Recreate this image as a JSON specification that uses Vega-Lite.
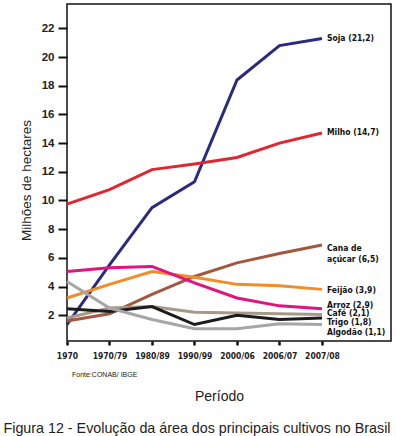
{
  "$schema": "https://vega.github.io/schema/vega-lite/v6.json",
  "width": 324,
  "height": 337,
  "autosize": {"type": "none"},
  "padding": {"left": 67, "top": 4, "right": 5, "bottom": 95},
  "background": "white",
  "title": {
    "text": "Figura 12 - Evolução da área dos principais cultivos no Brasil",
    "orient": "bottom",
    "anchor": "middle",
    "frame": "group",
    "dx": -32,
    "offset": 18,
    "font": "Liberation Sans",
    "fontSize": 14.3,
    "fontWeight": "normal",
    "color": "#222"
  },
  "config": {
    "view": {"stroke": "#111", "strokeWidth": 1.5},
    "axis": {"grid": false, "domain": false, "tickColor": "#111", "labelColor": "#222", "titleColor": "#222"}
  },
  "datasets": {
    "area": [
      {"cultivo": "Soja", "periodo": "1970", "area": 1.35},
      {"cultivo": "Soja", "periodo": "1970/79", "area": 5.5},
      {"cultivo": "Soja", "periodo": "1980/89", "area": 9.5},
      {"cultivo": "Soja", "periodo": "1990/99", "area": 11.3},
      {"cultivo": "Soja", "periodo": "2000/06", "area": 18.4},
      {"cultivo": "Soja", "periodo": "2006/07", "area": 20.8},
      {"cultivo": "Soja", "periodo": "2007/08", "area": 21.3},
      {"cultivo": "Milho", "periodo": "1970", "area": 9.75},
      {"cultivo": "Milho", "periodo": "1970/79", "area": 10.75},
      {"cultivo": "Milho", "periodo": "1980/89", "area": 12.15},
      {"cultivo": "Milho", "periodo": "1990/99", "area": 12.55},
      {"cultivo": "Milho", "periodo": "2000/06", "area": 13.0},
      {"cultivo": "Milho", "periodo": "2006/07", "area": 14.0},
      {"cultivo": "Milho", "periodo": "2007/08", "area": 14.7},
      {"cultivo": "Cana de açúcar", "periodo": "1970", "area": 1.6},
      {"cultivo": "Cana de açúcar", "periodo": "1970/79", "area": 2.1},
      {"cultivo": "Cana de açúcar", "periodo": "1980/89", "area": 3.45},
      {"cultivo": "Cana de açúcar", "periodo": "1990/99", "area": 4.7},
      {"cultivo": "Cana de açúcar", "periodo": "2000/06", "area": 5.65},
      {"cultivo": "Cana de açúcar", "periodo": "2006/07", "area": 6.3},
      {"cultivo": "Cana de açúcar", "periodo": "2007/08", "area": 6.9},
      {"cultivo": "Feijão", "periodo": "1970", "area": 3.2},
      {"cultivo": "Feijão", "periodo": "1970/79", "area": 4.15},
      {"cultivo": "Feijão", "periodo": "1980/89", "area": 5.05},
      {"cultivo": "Feijão", "periodo": "1990/99", "area": 4.65},
      {"cultivo": "Feijão", "periodo": "2000/06", "area": 4.15},
      {"cultivo": "Feijão", "periodo": "2006/07", "area": 4.05},
      {"cultivo": "Feijão", "periodo": "2007/08", "area": 3.8},
      {"cultivo": "Arroz", "periodo": "1970", "area": 5.05},
      {"cultivo": "Arroz", "periodo": "1970/79", "area": 5.3},
      {"cultivo": "Arroz", "periodo": "1980/89", "area": 5.4},
      {"cultivo": "Arroz", "periodo": "1990/99", "area": 4.25},
      {"cultivo": "Arroz", "periodo": "2000/06", "area": 3.2},
      {"cultivo": "Arroz", "periodo": "2006/07", "area": 2.65},
      {"cultivo": "Arroz", "periodo": "2007/08", "area": 2.45},
      {"cultivo": "Café", "periodo": "1970", "area": 1.8},
      {"cultivo": "Café", "periodo": "1970/79", "area": 2.5},
      {"cultivo": "Café", "periodo": "1980/89", "area": 2.6},
      {"cultivo": "Café", "periodo": "1990/99", "area": 2.2},
      {"cultivo": "Café", "periodo": "2000/06", "area": 2.15},
      {"cultivo": "Café", "periodo": "2006/07", "area": 2.1},
      {"cultivo": "Café", "periodo": "2007/08", "area": 2.05},
      {"cultivo": "Trigo", "periodo": "1970", "area": 2.45},
      {"cultivo": "Trigo", "periodo": "1970/79", "area": 2.25},
      {"cultivo": "Trigo", "periodo": "1980/89", "area": 2.6},
      {"cultivo": "Trigo", "periodo": "1990/99", "area": 1.35},
      {"cultivo": "Trigo", "periodo": "2000/06", "area": 2.0},
      {"cultivo": "Trigo", "periodo": "2006/07", "area": 1.7},
      {"cultivo": "Trigo", "periodo": "2007/08", "area": 1.8},
      {"cultivo": "Algodão", "periodo": "1970", "area": 4.35},
      {"cultivo": "Algodão", "periodo": "1970/79", "area": 2.5},
      {"cultivo": "Algodão", "periodo": "1980/89", "area": 1.7},
      {"cultivo": "Algodão", "periodo": "1990/99", "area": 1.05},
      {"cultivo": "Algodão", "periodo": "2000/06", "area": 1.05},
      {"cultivo": "Algodão", "periodo": "2006/07", "area": 1.4},
      {"cultivo": "Algodão", "periodo": "2007/08", "area": 1.35}
    ],
    "rotulos": [
      {"rotulo": "Soja (21,2)", "periodo": "2007/08", "area": 21.3},
      {"rotulo": "Milho (14,7)", "periodo": "2007/08", "area": 14.78},
      {"rotulo": "Cana de\naçúcar (6,5)", "periodo": "2007/08", "area": 6.7},
      {"rotulo": "Feijão (3,9)", "periodo": "2007/08", "area": 3.78},
      {"rotulo": "Arroz (2,9)", "periodo": "2007/08", "area": 2.74},
      {"rotulo": "Café (2,1)", "periodo": "2007/08", "area": 2.12},
      {"rotulo": "Trigo (1,8)", "periodo": "2007/08", "area": 1.5},
      {"rotulo": "Algodão (1,1)", "periodo": "2007/08", "area": 0.8}
    ],
    "fonte": [{"texto": "Fonte:CONAB/ IBGE", "periodo": "1970", "area": -2.2}]
  },
  "encoding": {
    "x": {
      "field": "periodo",
      "type": "ordinal",
      "scale": {"type": "point", "domain": ["1970", "1970/79", "1980/89", "1990/99", "2000/06", "2006/07", "2007/08"], "padding": 0.812, "align": 0},
      "axis": {
        "title": "Período",
        "labelAngle": 0,
        "labelFont": "DejaVu Sans Condensed, Liberation Sans",
        "labelFontWeight": "bold",
        "labelFontSize": 8.5,
        "labelPadding": 6,
        "tickSize": 4,
        "tickWidth": 2.5,
        "titleFont": "Liberation Sans",
        "titleFontSize": 14,
        "titleFontWeight": "normal",
        "titlePadding": 30,
        "titleX": 152,
        "titleAlign": "center"
      }
    },
    "y": {
      "field": "area",
      "type": "quantitative",
      "scale": {"domain": [0.2, 23.7], "nice": false, "zero": false},
      "axis": {
        "title": "Milhões de hectares",
        "values": [2, 4, 6, 8, 10, 12, 14, 16, 18, 20, 22],
        "labelFont": "Liberation Sans",
        "labelFontWeight": "bold",
        "labelFontSize": 11.5,
        "labelPadding": 4,
        "tickSize": 9,
        "tickWidth": 2,
        "titleFont": "Liberation Sans",
        "titleFontSize": 13.5,
        "titleFontWeight": "normal",
        "titlePadding": 8,
        "titleY": 176,
        "titleAlign": "center"
      }
    }
  },
  "layer": [
    {
      "data": {"name": "area"},
      "mark": {"type": "line", "strokeWidth": 3},
      "encoding": {
        "color": {
          "field": "cultivo",
          "type": "nominal",
          "scale": {
            "domain": ["Algodão", "Café", "Trigo", "Arroz", "Feijão", "Cana de açúcar", "Milho", "Soja"],
            "range": ["#a6a6a6", "#a89887", "#1c1c1c", "#e0137f", "#f28c28", "#a3573f", "#e0262f", "#2b2a7f"]
          },
          "legend": null
        }
      }
    },
    {
      "data": {"name": "rotulos"},
      "mark": {"type": "text", "align": "left", "baseline": "middle", "dx": 5, "font": "DejaVu Sans Condensed, Liberation Sans", "fontWeight": "bold", "fontSize": 8.5, "lineBreak": "\n", "lineHeight": 11, "color": "#111"},
      "encoding": {
        "text": {"field": "rotulo"}
      }
    },
    {
      "data": {"name": "fonte"},
      "mark": {"type": "text", "align": "left", "baseline": "middle", "dx": 5, "font": "Liberation Sans", "fontWeight": "normal", "fontSize": 7, "color": "#222"},
      "encoding": {
        "text": {"field": "texto", "type": "nominal"}
      }
    }
  ]
}
